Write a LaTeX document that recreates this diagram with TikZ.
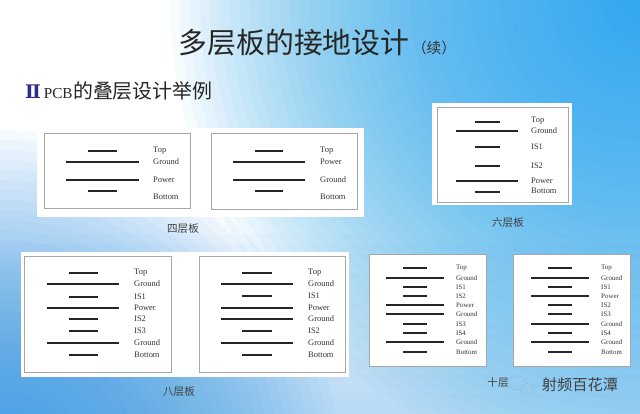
\documentclass[tikz,border=0pt]{standalone}
\usepackage{fontspec}
\setmainfont{Liberation Serif}
\newfontfamily\cjk{Noto Sans CJK SC}
\newfontfamily\numfont{DejaVu Serif}
\usetikzlibrary{positioning}
\definecolor{skytop}{RGB}{30,165,240}
\definecolor{skyleft}{RGB}{50,150,230}
\definecolor{skylow}{RGB}{140,200,245}
\definecolor{numblue}{RGB}{45,45,140}

\begin{document}
\begin{tikzpicture}[
        x=0.3mm, y=-0.3mm,
        panel/.style={fill=white},
        board/.style={draw=black!35, fill=white, line width=0.6pt},
        layer/.style={line width=1.4pt, black!85},
        lbl/.style={anchor=west, inner sep=0pt, text=black!80, font=\fontsize{7.2}{8}\selectfont},
        slbl/.style={lbl, font=\fontsize{5.9}{7}\selectfont},
        caption/.style={inner sep=0pt, text=black!75, font=\cjk\fontsize{9}{10}\selectfont},
        haze/.style={opacity=#1},
      ]
        % background
        \useasboundingbox (0,0) rectangle (640,414);
        \fill[white] (0,0) rectangle (640,414);
        \begin{scope}
          \clip (0,0) rectangle (640,414);
          \foreach \h in {10,20,...,180}
            \fill[skylow, haze=0.045] (0,414-\h) rectangle (640,414);
          \foreach \r in {10,20,...,340}
            \fill[skyleft, haze=0.045] (0,470) circle (\r*0.3mm);
          \foreach \r in {10,20,...,470}
            \fill[skytop, haze=0.038] (640,0) circle (\r*0.3mm);
        \end{scope}

        % titles
        \node[inner sep=0pt, text=black!85, font=\cjk\fontsize{24.6}{26}\selectfont] (title) at (294,43) {多层板的接地设计};
        \node[inner sep=0pt, anchor=base west, text=black!80, font=\cjk\fontsize{12.5}{13}\selectfont] (title_cont) at ([xshift=2pt]title.base east) {（续）};
        \node[inner sep=0pt, anchor=west, text=numblue, font=\numfont\bfseries\fontsize{16}{18}\selectfont] (roman) at (25,92) {Ⅱ};
        \node[inner sep=0pt, anchor=base west, text=black!85, font=\fontsize{13}{14}\selectfont] (pcb) at ([xshift=2pt]roman.base east) {PCB};
        \node[inner sep=0pt, anchor=base west, text=black!85, font=\cjk\fontsize{17}{18}\selectfont] (subtitle) at (pcb.base east) {的叠层设计举例};

        % four layers, board A
        \fill[panel] (37,128) rectangle (364,217);
        \draw[board] (44,133) rectangle (190,208);
        \foreach \y/\ly/\h/\lab [count=\i] in {151/151/14.5/Top, 162/162/36.5/Ground, 180/180/36.5/Power, 191/197/14.5/Bottom} {
          \draw[layer] (102.5-\h,\y) -- (102.5+\h,\y);
          \node[lbl] (fourA-\i) at (153,\ly) {\lab};
        }
        \node[caption] (four_caption) at (183,229) {四层板};

        % four layers, board B
        \draw[board] (211,133) rectangle (357,209);
        \foreach \y/\ly/\h/\lab [count=\i] in {151/151/14/Top, 162/162/36/Power, 180/180/36/Ground, 191/197/14/Bottom} {
          \draw[layer] (269-\h,\y) -- (269+\h,\y);
          \node[lbl] (fourB-\i) at (320,\ly) {\lab};
        }

        % six layers
        \fill[panel] (432,103) rectangle (572,205);
        \draw[board] (437,107) rectangle (568,202);
        \foreach \y/\ly/\h/\lab [count=\i] in {122/121/12.5/Top, 131/131/31/Ground, 147/147/12.5/IS1, 166/166/12.5/IS2, 181/181/31/Power, 192/191/12.5/Bottom} {
          \draw[layer] (487-\h,\y) -- (487+\h,\y);
          \node[lbl] (six-\i) at (531,\ly) {\lab};
        }
        \node[caption] (six_caption) at (508,223) {六层板};

        % eight layers, board A
        \fill[panel] (21,252) rectangle (349,377);
        \draw[board] (24,256) rectangle (171,372);
        \foreach \y/\h/\lab [count=\i] in {273/14.5/Top, 284/36/Ground, 297/14.5/IS1, 308/36/Power, 319/14.5/IS2, 331/14.5/IS3, 343/36/Ground, 355/14.5/Bottom} {
          \draw[layer] (83-\h,\y) -- (83+\h,\y);
          \node[lbl] (eightA-\i) at (134,\y) {\lab};
        }
        \node[caption] (eight_caption) at (179,392) {八层板};

        % eight layers, board B
        \draw[board] (199,256) rectangle (345,372);
        \foreach \y/\h/\lab [count=\i] in {273/15/Top, 284/36/Ground, 296/15/IS1, 308/36/Power, 319/36/Ground, 331/15/IS2, 343/36/Ground, 355/15/Bottom} {
          \draw[layer] (257-\h,\y) -- (257+\h,\y);
          \node[lbl] (eightB-\i) at (308,\y) {\lab};
        }

        % ten layers, board A
        \draw[board] (369,254) rectangle (486,366);
        \foreach \y/\h/\lab [count=\i] in {268/12/Top, 278/29/Ground, 287/12/IS1, 296/12/IS2, 305/29/Power, 314/29/Ground, 324/12/IS3, 333/12/IS4, 342/29/Ground, 352/12/Bottom} {
          \draw[layer] (415-\h,\y) -- (415+\h,\y);
          \node[slbl] (tenA-\i) at (456,\y) {\lab};
        }

        % ten layers, board B
        \draw[board] (513,254) rectangle (630,366);
        \foreach \y/\h/\lab [count=\i] in {268/12/Top, 278/29/Ground, 287/12/IS1, 296/29/Power, 305/12/IS2, 314/12/IS3, 324/29/Ground, 333/12/IS4, 342/29/Ground, 352/12/Bottom} {
          \draw[layer] (560-\h,\y) -- (560+\h,\y);
          \node[slbl] (tenB-\i) at (601,\y) {\lab};
        }
        \node[caption] (ten_caption) at (498,383) {十层};

        % watermark
        \draw[black!40, line width=0.4pt, densely dotted] (517,383) ellipse (9 and 7);
        \draw[black!40, line width=0.4pt, densely dotted] (527,389) ellipse (7 and 5.5);
        \node[inner sep=0pt, text=black!75, font=\cjk\fontsize{13}{14}\selectfont] (mark) at (580,385) {射频百花潭};
      \end{tikzpicture}
\end{document}
